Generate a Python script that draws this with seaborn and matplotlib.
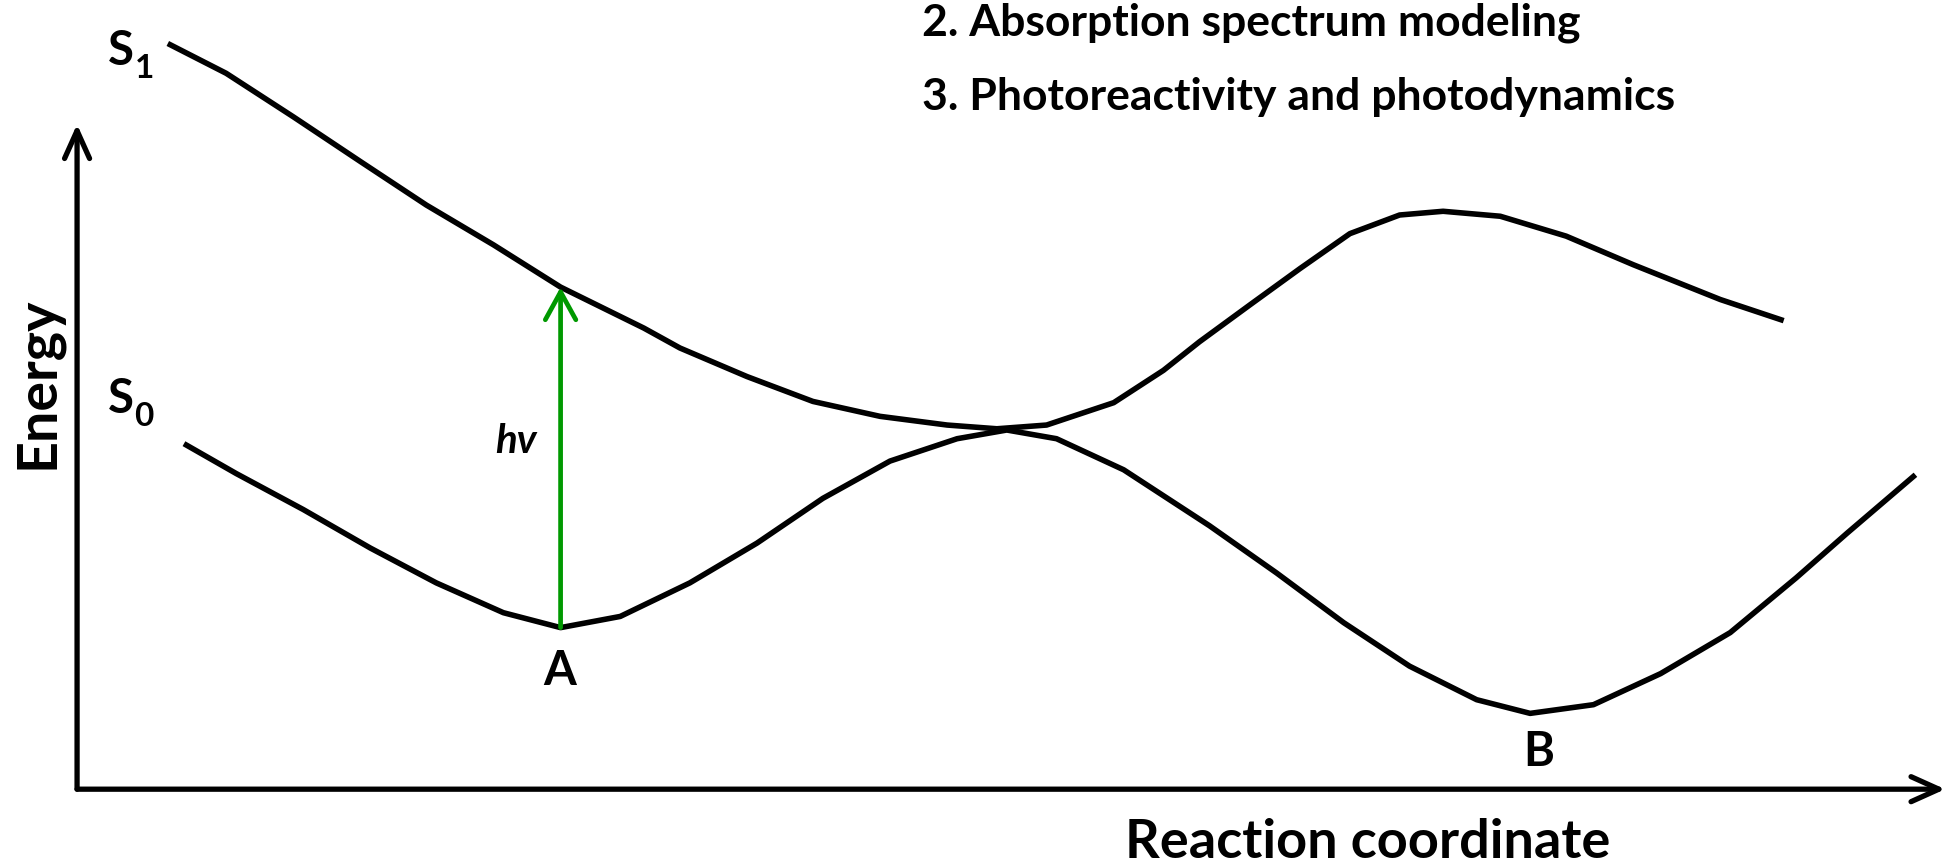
import numpy as np
import pandas as pd
import matplotlib.pyplot as plt
import seaborn as sns

# potential energy curves (reaction coordinate, energy), arbitrary units
s1_coord = [0.73, 1.20, 1.74, 2.28, 2.81, 3.35, 3.89, 4.56, 4.85, 5.39, 5.92, 6.46, 7.00, 7.40,
            7.80, 8.34, 8.74, 9.03, 9.44, 9.84, 10.24, 10.64, 10.99, 11.45, 11.98, 12.52, 13.22,
            13.73]
s1_energy = [6.00, 5.76, 5.41, 5.05, 4.70, 4.38, 4.04, 3.71, 3.55, 3.32, 3.12, 3.00, 2.93, 2.90,
             2.93, 3.11, 3.37, 3.60, 3.90, 4.19, 4.47, 4.62, 4.65, 4.61, 4.45, 4.22, 3.94,
             3.77]

s0_coord = [0.86, 1.28, 1.82, 2.36, 2.89, 3.43, 3.89, 4.37, 4.93, 5.47, 6.00, 6.54, 7.08, 7.48,
            7.88, 8.42, 9.11, 9.65, 10.19, 10.72, 11.26, 11.69, 12.20, 12.74, 13.30, 13.83,
            14.24, 14.79]
s0_energy = [2.78, 2.54, 2.25, 1.94, 1.66, 1.42, 1.30, 1.39, 1.66, 1.98, 2.34, 2.64, 2.82, 2.89,
             2.82, 2.57, 2.12, 1.74, 1.34, 0.99, 0.72, 0.61, 0.68, 0.93, 1.26, 1.70,
             2.06, 2.53]

# vertical excitation from minimum A
hv_coord = 3.89
hv_from, hv_to = 1.30, 4.04

y_axis_top = 5.35
x_axis_end = 15.03

header_lines = ["2. Absorption spectrum modeling", "3. Photoreactivity and photodynamics"]

sns.set_style("white")
plt.rcParams['font.family'] = ['Lato', 'DejaVu Sans']

fig = plt.figure(figsize=(19.49, 8.65), dpi=100)
ax = fig.add_axes([0, 0, 1, 1])
ax.set_xlim(-0.62, 15.06)
ax.set_ylim(-0.61, 6.35)
ax.axis('off')

curve_kw = dict(sort=False, color='black', lw=4.0, ax=ax)
sns.lineplot(x=s1_coord, y=s1_energy, **curve_kw)
sns.lineplot(x=s0_coord, y=s0_energy, **curve_kw)
for line in ax.lines:
    line.set_solid_joinstyle('round')
    line.set_solid_capstyle('butt')

# axes with open arrowheads
axis_arrow = dict(arrowstyle='->,head_length=1.0,head_width=0.45', lw=3.8, color='black',
                  mutation_scale=20, shrinkA=0, shrinkB=0, capstyle='round', joinstyle='round')
ax.annotate('', xy=(0, y_axis_top), xytext=(0, 0), arrowprops=axis_arrow)
ax.annotate('', xy=(x_axis_end, 0), xytext=(0, 0), arrowprops=axis_arrow)

green_arrow = dict(axis_arrow, color='#009900', lw=3.4,
                   arrowstyle='->,head_length=1.0,head_width=0.55')
ax.annotate('', xy=(hv_coord, hv_to), xytext=(hv_coord, hv_from), arrowprops=green_arrow)

txt = dict(fontweight='bold', color='black')
ax.text(0.35, 5.94, 'S', fontsize=34, ha='center', va='center', **txt)
ax.text(0.54, 5.80, '1', fontsize=24, ha='center', va='center', **txt)
ax.text(0.35, 3.14, 'S', fontsize=34, ha='center', va='center', **txt)
ax.text(0.54, 3.00, '0', fontsize=24, ha='center', va='center', **txt)
ax.text(3.53, 2.80, 'hv', fontsize=29, style='italic', ha='center', va='center', **txt)
ax.text(3.88, 0.95, 'A', fontsize=34, ha='center', va='center', **txt)
ax.text(11.76, 0.30, 'B', fontsize=34, ha='center', va='center', **txt)
ax.text(-0.32, 3.27, 'Energy', fontsize=40, rotation=90, ha='center', va='center', **txt)
ax.text(10.38, -0.43, 'Reaction coordinate', fontsize=39, ha='center', va='center', **txt)
ax.text(6.80, 6.17, header_lines[0], fontsize=32, ha='left', va='center', **txt)
ax.text(6.80, 5.57, header_lines[1], fontsize=32, ha='left', va='center', **txt)

fig.savefig('out.png', dpi=100)
